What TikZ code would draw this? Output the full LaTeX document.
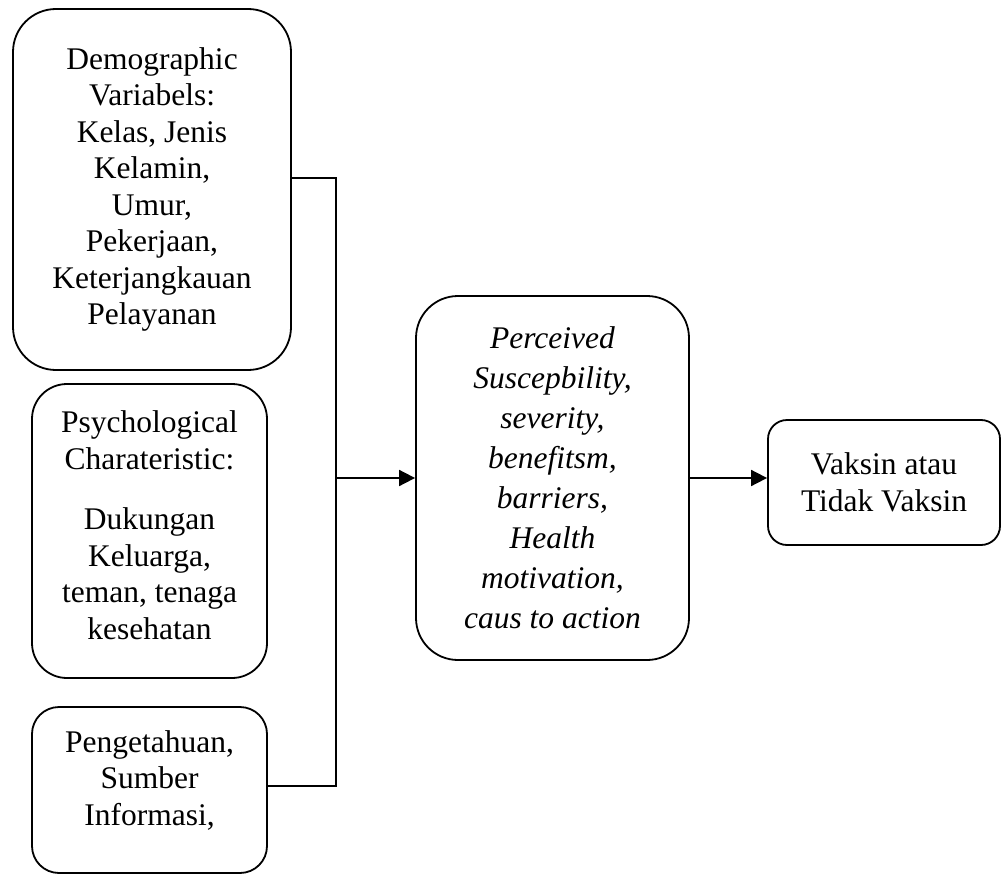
\documentclass[tikz,border=0pt]{standalone}
\usepackage{fontspec}
\setmainfont{Liberation Serif}
\usetikzlibrary{arrows.meta}
\begin{document}
\begin{tikzpicture}[x=1pt,y=-1pt,
  box/.style={draw, line width=1.8pt, align=center, inner sep=0pt,
    font=\fontsize{31.5}{36.5}\selectfont},
  wire/.style={line width=1.8pt},
  arr/.style={line width=1.8pt, -{Triangle[length=16pt,width=16pt]}}]
\useasboundingbox (0,0) rectangle (1002,875);
\node[box, rounded corners=43pt, minimum width=278pt, minimum height=361pt] (demo) at (152,189.5)
  {Demographic\\Variabels:\\Kelas, Jenis\\Kelamin,\\Umur,\\Pekerjaan,\\Keterjangkauan\\Pelayanan};
\node[box, rounded corners=35pt, minimum width=235pt, minimum height=294pt] (psych) at (149.5,531)
  {Psychological\\Charateristic:\\[24pt]Dukungan\\Keluarga,\\teman, tenaga\\kesehatan\rule[-12pt]{0pt}{0pt}};
\node[box, rounded corners=27pt, minimum width=235pt, minimum height=166pt] (peng) at (149.5,790)
  {Pengetahuan,\\Sumber\\Informasi,\rule[-24pt]{0pt}{0pt}};
\node[box, rounded corners=42pt, minimum width=273pt, minimum height=364pt,
  font=\fontsize{31.5}{40}\selectfont\itshape] (perc) at (552.5,478)
  {Perceived\\Suscepbility,\\severity,\\benefitsm,\\barriers,\\Health\\motivation,\\caus to action};
\node[box, rounded corners=19pt, minimum width=232pt, minimum height=125pt] (vaks) at (884,482.5)
  {Vaksin atau\\Tidak Vaksin};
\coordinate (j1) at (336,178);
\coordinate (j2) at (336,786);
\coordinate (jm) at (336,478);
\draw[wire] (demo.east |- j1) -- (j1) -- (j2) -- (peng.east |- j2);
\draw[arr] (jm) -- (perc.west |- jm);
\draw[arr] (perc.east |- jm) -- (vaks.west |- jm);
\end{tikzpicture}
\end{document}
